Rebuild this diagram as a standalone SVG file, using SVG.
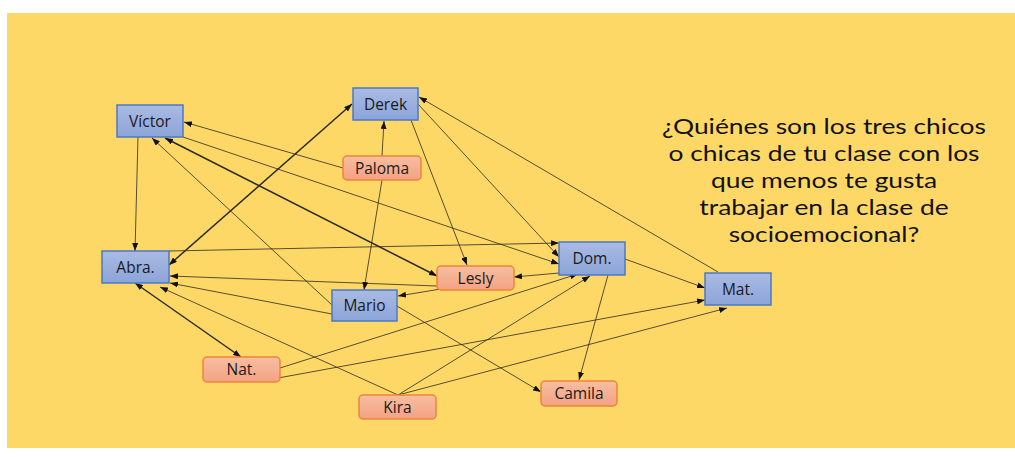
<svg xmlns="http://www.w3.org/2000/svg" width="1015" height="457" viewBox="0 0 1015 457">
<style>
.bg{fill:#FED866}
.blue{fill:url(#gBlue);stroke:#4A78C6;stroke-width:1.5}
.org{fill:url(#gOrg);stroke:#EE8438;stroke-width:1.5}
.lbl{font-family:"Open Sans","Noto Sans",sans-serif;font-size:15.5px;fill:#1a1a1a;text-anchor:middle}
.q{font-family:Lato,"Open Sans",sans-serif;font-size:22px;fill:#111;text-anchor:middle}
.c{stroke:#2b2a22;stroke-width:0.8;fill:none;marker-end:url(#ah)}
.d{stroke:#2b2a22;stroke-width:1.5;fill:none;marker-end:url(#ah);marker-start:url(#ah)}
</style>
<defs>
<linearGradient id="gBlue" x1="0" y1="0" x2="0" y2="1">
<stop offset="0" stop-color="#AABBE3"/>
<stop offset="1" stop-color="#8CA4D9"/>
</linearGradient>
<linearGradient id="gOrg" x1="0" y1="0" x2="0" y2="1">
<stop offset="0" stop-color="#F7BEA0"/>
<stop offset="1" stop-color="#F3A283"/>
</linearGradient>
<marker id="ah" viewBox="0 0 8 6" refX="8" refY="3" markerWidth="8" markerHeight="6" markerUnits="userSpaceOnUse" orient="auto-start-reverse">
<path d="M0,0 L8,3 L0,6 z" fill="#111"/>
</marker>
</defs>
<rect class="bg" x="7" y="13" width="1008" height="435"/>
<g id="connectors">
<path class="c" d="M138,137 L135,251"/>
<path class="c" d="M343,168 L184,122"/>
<path class="c" d="M183,137 L559,264"/>
<path class="d" d="M165,138 L437,276"/>
<path class="c" d="M332,305 L152,138"/>
<path class="d" d="M352,104 L169,265"/>
<path class="c" d="M169,251 L559,243"/>
<path class="c" d="M437,286 L170,276"/>
<path class="c" d="M382,156 L384,121"/>
<path class="c" d="M382,180 L364,290"/>
<path class="c" d="M411,120 L467,265"/>
<path class="c" d="M418,104 L559,257"/>
<path class="c" d="M718,272 L419,97"/>
<path class="c" d="M559,273 L514,277"/>
<path class="c" d="M447,288 L398,296"/>
<path class="c" d="M280,368 L578,274"/>
<path class="c" d="M398,395 L590,276"/>
<path class="c" d="M608,275 L579,380"/>
<path class="c" d="M625,259 L705,288"/>
<path class="c" d="M278,378 L705,300"/>
<path class="c" d="M398,395 L727,308"/>
<path class="c" d="M397,306 L541,392"/>
<path class="d" d="M135,283 L241,357"/>
<path class="c" d="M332,314 L170,283"/>
<path class="c" d="M398,395 L160,287"/>
</g>
<g id="victor"><rect class="blue" x="117" y="105" width="66" height="32"/><text class="lbl" x="150" y="126.5">Víctor</text></g>
<g id="derek"><rect class="blue" x="353" y="88" width="65" height="32"/><text class="lbl" x="385.5" y="109.5">Derek</text></g>
<g id="paloma"><rect class="org" x="343" y="156" width="78" height="24" rx="4"/><text class="lbl" x="382" y="173.5">Paloma</text></g>
<g id="abra"><rect class="blue" x="102" y="251" width="67" height="32"/><text class="lbl" x="135.5" y="272.5">Abra.</text></g>
<g id="mario"><rect class="blue" x="332" y="290" width="65" height="31"/><text class="lbl" x="364.5" y="311">Mario</text></g>
<g id="nat"><rect class="org" x="203" y="357" width="77" height="25" rx="4"/><text class="lbl" x="241.5" y="375">Nat.</text></g>
<g id="kira"><rect class="org" x="359" y="395" width="77" height="24" rx="4"/><text class="lbl" x="397.5" y="412.5">Kira</text></g>
<g id="lesly"><rect class="org" x="437" y="266" width="77" height="24" rx="4"/><text class="lbl" x="475.5" y="283.5">Lesly</text></g>
<g id="dom"><rect class="blue" x="559" y="242" width="66" height="33"/><text class="lbl" x="592" y="264">Dom.</text></g>
<g id="mat"><rect class="blue" x="705" y="273" width="66" height="32"/><text class="lbl" x="738" y="294.5">Mat.</text></g>
<g id="camila"><rect class="org" x="541" y="381" width="76" height="25" rx="4"/><text class="lbl" x="579" y="399">Camila</text></g>
<g id="question" transform="translate(824,0) scale(1.2,1)">
<text class="q"><tspan x="0" y="134">¿Quiénes son los tres chicos</tspan><tspan x="0" y="161">o chicas de tu clase con los</tspan><tspan x="0" y="188">que menos te gusta</tspan><tspan x="0" y="215">trabajar en la clase de</tspan><tspan x="0" y="242">socioemocional?</tspan></text>
</g>
</svg>
